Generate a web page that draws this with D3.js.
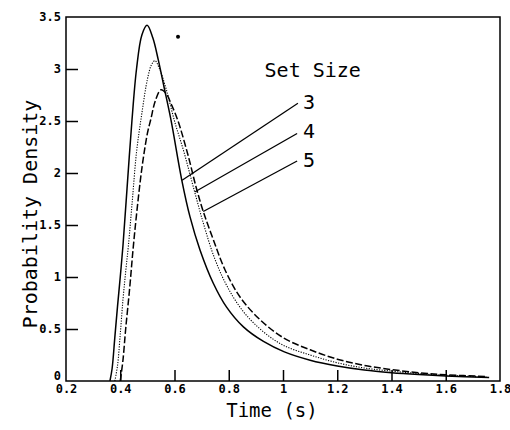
<!DOCTYPE html>
<html lang="en">
<head>
<meta charset="UTF-8">
<title>Probability Density vs Time</title>
<script src="https://d3js.org/d3.v7.min.js"></script>
<style>
  body, html {
    margin: 0;
    padding: 0;
    background: #fff;
  }
  svg {
    display: block;
  }
  .tick-label {
    font: bold 12px "DejaVu Sans Mono", monospace;
    fill: #000;
  }
  .big-label {
    font: 20px "DejaVu Sans Mono", monospace;
    fill: #000;
  }
</style>
</head>
<body>
<svg></svg>
<script>
  // axis ticks
  const timeTicks = [0.2, 0.4, 0.6, 0.8, 1, 1.2, 1.4, 1.6, 1.8];
  const densityTicks = [0, 0.5, 1, 1.5, 2, 2.5, 3, 3.5];

  // set size 3 (solid)
  const set3Time = [0.362, 0.37, 0.38, 0.39, 0.40, 0.41, 0.425, 0.443, 0.46, 0.48, 0.499, 0.52, 0.54, 0.562, 0.587, 0.627, 0.657, 0.694, 0.743, 0.792, 0.854, 0.928, 1.005, 1.1, 1.2, 1.3, 1.4, 1.5, 1.6, 1.76];
  const set3Dens = [0, 0.12, 0.42, 0.72, 1.0, 1.3, 1.85, 2.5, 3.0, 3.33, 3.42, 3.3, 3.09, 2.82, 2.51, 1.93, 1.58, 1.26, 0.94, 0.71, 0.52, 0.38, 0.28, 0.2, 0.144, 0.105, 0.08, 0.062, 0.048, 0.033];

  // set size 4 (dotted)
  const set4Time = [0.38, 0.39, 0.40, 0.41, 0.42, 0.43, 0.445, 0.46, 0.48, 0.50, 0.515, 0.528, 0.545, 0.57, 0.60, 0.635, 0.669, 0.706, 0.745, 0.79, 0.85, 0.92, 1.0, 1.1, 1.2, 1.3, 1.4, 1.5, 1.6, 1.75];
  const set4Dens = [0, 0.15, 0.45, 0.78, 1.05, 1.3, 1.75, 2.2, 2.58, 2.9, 3.04, 3.08, 3.0, 2.8, 2.5, 2.2, 1.87, 1.52, 1.2, 0.93, 0.68, 0.49, 0.345, 0.25, 0.175, 0.125, 0.095, 0.072, 0.055, 0.038];

  // set size 5 (dashed)
  const set5Time = [0.40, 0.41, 0.42, 0.435, 0.447, 0.46, 0.48, 0.50, 0.513, 0.53, 0.55, 0.57, 0.59, 0.613, 0.65, 0.68, 0.706, 0.743, 0.786, 0.841, 0.915, 1.005, 1.1, 1.2, 1.3, 1.4, 1.5, 1.6, 1.75];
  const set5Dens = [0, 0.2, 0.5, 0.9, 1.26, 1.6, 2.05, 2.38, 2.52, 2.7, 2.8, 2.76, 2.65, 2.5, 2.17, 1.86, 1.63, 1.36, 1.07, 0.81, 0.59, 0.41, 0.30, 0.21, 0.15, 0.11, 0.08, 0.06, 0.043];

  // legend: labels and leader lines, in data units
  const setSizes = ["3", "4", "5"];
  const labelTime = [1.074, 1.074, 1.074];
  const labelDens = [2.615, 2.335, 2.06];
  const leaderFrom = [[1.055, 2.67], [1.052, 2.38], [1.052, 2.115]];
  const leaderTo = [[0.628, 1.93], [0.676, 1.82], [0.706, 1.63]];
  const titlePos = [0.932, 2.92];
  const strayDot = [0.613, 3.31];

  const width = 510;
  const height = 430;
  const margin = {top: 17, right: 10, bottom: 49, left: 66};

  const svg = d3.select("svg")
    .attr("width", width)
    .attr("height", height);

  const x = d3.scaleLinear().domain([0.2, 1.8]).range([margin.left, width - margin.right]);
  const y = d3.scaleLinear().domain([0, 3.5]).range([height - margin.bottom, margin.top]);

  // frame
  svg.append("rect")
    .attr("x", x(0.2))
    .attr("y", y(3.5))
    .attr("width", x(1.8) - x(0.2))
    .attr("height", y(0) - y(3.5))
    .attr("fill", "none")
    .attr("stroke", "#000")
    .attr("stroke-width", 1.5);

  // inward ticks
  svg.append("g")
    .attr("transform", `translate(0,${y(0)})`)
    .call(d3.axisBottom(x).tickValues(timeTicks).tickSizeInner(-11).tickSizeOuter(0).tickFormat(d3.format("")))
    .call(g => g.select(".domain").remove())
    .call(g => g.selectAll("line").attr("stroke-width", 1.5))
    .call(g => g.selectAll("text").attr("class", "tick-label").attr("y", 3).attr("dy", "0.71em"));

  svg.append("g")
    .attr("transform", `translate(${x(0.2)},0)`)
    .call(d3.axisLeft(y).tickValues(densityTicks).tickSizeInner(-12).tickSizeOuter(0).tickFormat(d3.format("")))
    .call(g => g.select(".domain").remove())
    .call(g => g.selectAll("line").attr("stroke-width", 1.5))
    .call(g => g.selectAll("text").attr("class", "tick-label").attr("x", -5))
    // the zero label sits just above the 0.2 label
    .call(g => g.selectAll(".tick").filter(d => d === 0).select("text").attr("dy", "-0.1em"));

  // remove ticks sitting on the frame corners
  svg.selectAll(".tick").filter(d => d === 0.2 || d === 1.8 || d === 0 || d === 3.5).select("line").remove();

  // curves
  const line = d3.line()
    .x(d => x(d[0]))
    .y(d => y(d[1]))
    .curve(d3.curveCatmullRom.alpha(0.5));

  const series = [
    {t: set3Time, v: set3Dens, dash: null, w: 1.5},
    {t: set4Time, v: set4Dens, dash: "1.2,1.4", w: 1.1},
    {t: set5Time, v: set5Dens, dash: "7,2.5", w: 1.5}
  ];

  svg.append("g")
    .selectAll("path")
    .data(series)
    .join("path")
      .attr("d", s => line(s.t.map((t, i) => [t, s.v[i]])))
      .attr("fill", "none")
      .attr("stroke", "#000")
      .attr("stroke-width", s => s.w)
      .attr("stroke-dasharray", s => s.dash);

  // legend
  svg.append("text")
    .attr("class", "big-label")
    .attr("x", x(titlePos[0]))
    .attr("y", y(titlePos[1]))
    .text("Set Size");

  svg.append("g")
    .selectAll("line")
    .data(setSizes)
    .join("line")
      .attr("x1", (d, i) => x(leaderFrom[i][0]))
      .attr("y1", (d, i) => y(leaderFrom[i][1]))
      .attr("x2", (d, i) => x(leaderTo[i][0]))
      .attr("y2", (d, i) => y(leaderTo[i][1]))
      .attr("stroke", "#000")
      .attr("stroke-width", 1.3);

  svg.append("g")
    .selectAll("text")
    .data(setSizes)
    .join("text")
      .attr("class", "big-label")
      .attr("x", (d, i) => x(labelTime[i]))
      .attr("y", (d, i) => y(labelDens[i]))
      .text(d => d);

  svg.append("circle")
    .attr("cx", x(strayDot[0]))
    .attr("cy", y(strayDot[1]))
    .attr("r", 2)
    .attr("fill", "#000");

  // axis titles
  svg.append("text")
    .attr("class", "big-label")
    .attr("text-anchor", "middle")
    .attr("x", 272)
    .attr("y", 417)
    .style("font-size", "19px")
    .text("Time (s)");

  svg.append("text")
    .attr("class", "big-label")
    .attr("text-anchor", "middle")
    .attr("transform", "translate(37,214) rotate(-90)")
    .text("Probability Density");
</script>
</body>
</html>
